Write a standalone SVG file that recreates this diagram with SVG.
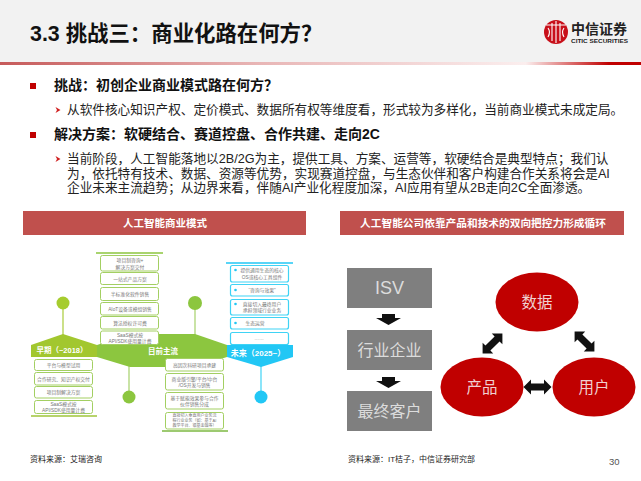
<svg xmlns="http://www.w3.org/2000/svg" width="641" height="481" viewBox="0 0 641 481">
<style>
text{font-family:"Liberation Sans","Noto Sans CJK SC",sans-serif}
.h{font-size:14px;font-weight:700;fill:#111}
.b{font-size:12.65px;fill:#222}
.p{font-size:10.5px;font-weight:700;fill:#fff;text-anchor:middle}
.s{font-size:8px;fill:#222}
.g{fill:#fff;stroke:#a3cf62;stroke-width:1}
.c{fill:#fff;stroke:#3fd3f5;stroke-width:1.2}
.t{font-size:4.8px;fill:#777;text-anchor:middle}
.l{font-size:7.5px;font-weight:700;fill:#fff;text-anchor:middle}
.box{fill:#7f7f7f}
.w{font-size:16px;fill:#dcdcdc;text-anchor:middle}
.e{fill:#c00000}
.ew{font-size:15.5px;fill:#f0d0d0;text-anchor:middle}
.sq{fill:#c00000}
.ch{fill:#d02020}
.da{fill:#111}
</style>
<defs>
<linearGradient id="rule" x1="0" x2="1" y1="0" y2="0">
<stop offset="0" stop-color="#c65a5a"/><stop offset="0.4" stop-color="#e8b5b5"/><stop offset="0.82" stop-color="#fbeeee"/><stop offset="0.95" stop-color="#c00000"/><stop offset="1" stop-color="#c00000"/>
</linearGradient>
<path id="dbl" d="M-14,0 L-6.5,-7.5 V-3.5 H6.5 V-7.5 L14,0 L6.5,7.5 V3.5 H-6.5 V7.5 Z"/>
<path id="dn" d="M-6.5,0 H6.5 V4 H12.5 L0,11 L-12.5,4 H-6.5 Z"/>
</defs>
<rect width="641" height="481" fill="#fff"/>
<g id="header">
<rect width="641" height="62" fill="#f2f2f2"/>
<rect y="62" width="641" height="3" fill="url(#rule)"/>
<text x="30" y="41" font-size="21.4" font-weight="700" fill="#111">3.3 挑战三：商业化路在何方？</text>
</g>
<g id="logo">
<circle cx="556" cy="32" r="12" fill="#c8101a"/>
<path d="M546,25 H566 M552,23 V41 M556,21 V43 M560,23 V41 M548,28 Q551,32 548,37 M564,28 Q561,32 564,37" fill="none" stroke="#fff" stroke-width="1.1"/>
<text x="571" y="33.500" font-size="14" font-weight="700" fill="#222" style="font-family:'Noto Sans CJK SC',sans-serif">中信证券</text>
<text x="571" y="43" font-size="5.500" font-weight="700" fill="#222" textLength="57" lengthAdjust="spacingAndGlyphs">CITIC SECURITIES</text>
</g>
<g id="body">
<rect class="sq" x="30" y="83" width="6" height="6"/>
<text class="h" x="54" y="90">挑战：初创企业商业模式路在何方？</text>
<path class="ch" d="M55.500,107 L60.500,110 L55.500,113 L57,110 Z"/>
<text class="b" x="67" y="114">从软件核心知识产权、定价模式、数据所有权等维度看，形式较为多样化，当前商业模式未成定局。</text>
<rect class="sq" x="30" y="132" width="6" height="6"/>
<text class="h" x="54" y="139">解决方案：软硬结合、赛道控盘、合作共建、走向2C</text>
<path class="ch" d="M55.500,156 L60.500,159 L55.500,162 L57,159 Z"/>
<text class="b" x="67" y="163">当前阶段，人工智能落地以2B/2G为主，提供工具、方案、运营等，软硬结合是典型特点；我们认</text>
<text class="b" x="67" y="177.500">为，依托特有技术、数据、资源等优势，实现赛道控盘，与生态伙伴和客户构建合作关系将会是AI</text>
<text class="b" x="67" y="192">企业未来主流趋势；从边界来看，伴随AI产业化程度加深，AI应用有望从2B走向2C全面渗透。</text>
</g>
<g id="panel-left-title">
<rect x="23" y="211" width="283" height="24" fill="#c0504d"/>
<text class="p" x="165" y="227">人工智能商业模式</text>
</g>
<g id="panel-right-title">
<rect x="340" y="211" width="284" height="24" fill="#c0504d"/>
<text class="p" x="483" y="227" style="font-size:10.7px">人工智能公司依靠产品和技术的双向把控力形成循环</text>
</g>
<g id="connectors">
<path d="M63,309 V336" stroke="#a9cc3a" stroke-width="1.2"/>
<path d="M195,309 V336" stroke="#a5d06a" stroke-width="1.2"/>
<path d="M129,366 V391" stroke="#a5d06a" stroke-width="1.2"/>
<path d="M261,366 V391" stroke="#3fd3f5" stroke-width="1.2"/>
<path d="M96,253 H163" stroke="#8cc63f" stroke-width="1.6"/>
<path d="M226,263 H293" stroke="#22c7f5" stroke-width="1.6"/>
<path d="M31,416 H97" stroke="#9fc53a" stroke-width="1.6"/>
<path d="M162,431 H228" stroke="#7cb942" stroke-width="1.6"/>
<use href="#dn" x="388.5" y="314" class="da"/>
<use href="#dn" x="388.5" y="377" class="da"/>
<use href="#dbl" transform="translate(537.5 387)" class="da"/>
<use href="#dbl" transform="translate(492.5 343.5) rotate(-45)" class="da"/>
<use href="#dbl" transform="translate(584.5 341.5) rotate(45)" class="da"/>
</g>
<g id="timeline-early">
<circle cx="63" cy="303" r="6.500" fill="#a6cc2e"/>
<path d="M31,345 L63,334 L97,345 V357 H31 Z" fill="#a2c72f"/>
<text class="l" x="62" y="353">早期（~2018）</text>
</g>
<g id="timeline-now">
<circle cx="195" cy="303" r="7" fill="#8cc63f"/>
<circle cx="129" cy="397" r="6.500" fill="#8cc63f"/>
<path d="M97,345 L130,334 H195 L227,345 V357 L195,367 H130 L97,357 Z" fill="#8cc63f"/>
<text class="l" x="163" y="354">目前主流</text>
</g>
<g id="timeline-future">
<circle cx="261" cy="397" r="6.500" fill="#22c7f5"/>
<path d="M227,345 H293 V357 L261,367 L227,357 Z" fill="#22c7f5"/>
<text class="l" x="258" y="356" style="font-size:8px">未来（2025~）</text>
</g>
<g id="now-top-1"><rect class="g" x="100.500" y="255.500" width="58" height="15.500" rx="2"/><text class="t" x="130" y="262">项目制咨询+</text><text class="t" x="130" y="268.500">解决方案交付</text></g>
<g id="now-top-2"><rect class="g" x="100.500" y="272.500" width="58" height="12" rx="2"/><text class="t" x="130" y="280.500">一站式产品方案</text></g>
<g id="now-top-3"><rect class="g" x="100.500" y="287.500" width="58" height="13" rx="2"/><text class="t" x="130" y="296">半标准化软件销售</text></g>
<g id="now-top-4"><rect class="g" x="100.500" y="302.500" width="58" height="12.500" rx="2"/><text class="t" x="130" y="311">AIoT设备或模组销售</text></g>
<g id="now-top-5"><rect class="g" x="100.500" y="316.500" width="58" height="12.500" rx="2"/><text class="t" x="130" y="325">算法授权许可费</text></g>
<g id="now-top-6"><rect class="g" x="100.500" y="331" width="58" height="13.500" rx="2"/><text class="t" x="130" y="336.500">SaaS模式按</text><text class="t" x="130" y="342.500">API/SDK使用量计费</text></g>
<g id="early-1"><rect class="g" x="34.500" y="359.500" width="58" height="11" rx="2"/><text class="t" x="63.500" y="367">平台与模型试用</text></g>
<g id="early-2"><rect class="g" x="34.500" y="372.500" width="58" height="12.500" rx="2"/><text class="t" x="63.500" y="380.500">合作研究、知识产权交付</text></g>
<g id="early-3"><rect class="g" x="34.500" y="386.500" width="58" height="11.500" rx="2"/><text class="t" x="63.500" y="394">项目制解决方案</text></g>
<g id="early-4"><rect class="g" x="34.500" y="400.500" width="58" height="13" rx="2"/><text class="t" x="63.500" y="405.500">SaaS模式按</text><text class="t" x="63.500" y="412">API/SDK使用量计费</text></g>
<g id="now-bottom-1"><rect class="g" x="165.500" y="358.500" width="58" height="12.500" rx="2"/><text class="t" x="194.500" y="366.500">高因次科研项目承建</text></g>
<g id="now-bottom-2"><rect class="g" x="165.500" y="373.500" width="58" height="16.500" rx="2"/><text class="t" x="194.500" y="380.500">商业版引擎/平台/中台</text><text class="t" x="194.500" y="387">/OS开发与销售</text></g>
<g id="now-bottom-3"><rect class="g" x="165.500" y="392.500" width="58" height="16.500" rx="2"/><text class="t" x="194.500" y="399.500">基于赋能效果参与合作</text><text class="t" x="194.500" y="406">伙伴销售分成</text></g>
<g id="now-bottom-4"><rect class="g" x="165.500" y="412.500" width="58" height="16.500" rx="2"/><text class="t" x="194.500" y="417" style="font-size:4px">直接切入垂直用户业务流</text><text class="t" x="194.500" y="422" style="font-size:4px">程行业业务（如：基于AI</text><text class="t" x="194.500" y="427" style="font-size:4px">教学平台、银基金融等）</text></g>
<g id="future-1"><rect class="c" x="230.500" y="265.500" width="58" height="16.500" rx="2"/><circle cx="235.500" cy="270" r="1.300" fill="#22c7f5"/><text class="t" x="262" y="272">提供通用生态的核心</text><text class="t" x="262" y="278.500">OS或核心工具组件</text></g>
<g id="future-2"><rect class="c" x="230.500" y="284.500" width="58" height="11.500" rx="2"/><circle cx="235.500" cy="290" r="1.300" fill="#22c7f5"/><text class="t" x="262" y="292">“咨询与效果”</text></g>
<g id="future-3"><rect class="c" x="230.500" y="299.500" width="58" height="15.500" rx="2"/><circle cx="235.500" cy="304" r="1.300" fill="#22c7f5"/><text class="t" x="262" y="306">直接切入最终用户</text><text class="t" x="262" y="312">承担领域行业业务</text></g>
<g id="future-4"><rect class="c" x="230.500" y="317.500" width="58" height="11.500" rx="2"/><circle cx="235.500" cy="323" r="1.300" fill="#22c7f5"/><text class="t" x="255" y="325">生态运营</text></g>
<g id="future-5"><rect class="c" x="230.500" y="332.500" width="58" height="12" rx="2"/><text class="t" x="259" y="340">……</text></g>
<g id="isv"><rect class="box" x="347" y="268" width="85" height="40"/><text class="w" x="389.500" y="294" style="font-size:18px">ISV</text></g>
<g id="industry"><rect class="box" x="347" y="330" width="85" height="40"/><text class="w" x="389.500" y="356">行业企业</text></g>
<g id="customer"><rect class="box" x="347" y="391" width="85" height="40"/><text class="w" x="389.500" y="417">最终客户</text></g>
<g id="data"><ellipse class="e" cx="537" cy="302" rx="41.500" ry="29.500"/><text class="ew" x="537" y="308">数据</text></g>
<g id="product"><ellipse class="e" cx="482" cy="387" rx="41.500" ry="29.500"/><text class="ew" x="482" y="393">产品</text></g>
<g id="user"><ellipse class="e" cx="594" cy="387" rx="41.500" ry="29.500"/><text class="ew" x="594" y="393">用户</text></g>
<g id="footer">
<text class="s" x="30" y="462">资料来源：艾瑞咨询</text>
<text class="s" x="348" y="462">资料来源：IT桔子，中信证券研究部</text>
<text x="609" y="465" font-size="9.500" fill="#555">30</text>
</g>
</svg>
